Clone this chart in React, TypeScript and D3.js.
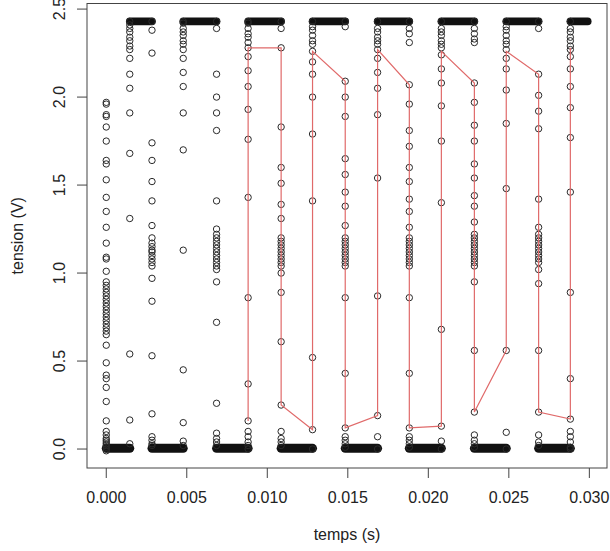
import React from "react";
import * as d3 from "d3";

// ---- data ----
const colX = [0, 0.00146, 0.00284, 0.00478, 0.00685, 0.00881, 0.01086, 0.01281, 0.01484, 0.01685, 0.01882, 0.02081, 0.02286, 0.02484, 0.02685, 0.02882];

const c0 = [1.97, 1.96, 1.9, 1.89, 1.83, 1.75, 1.64, 1.62, 1.53, 1.43, 1.35, 1.26, 1.17, 1.09, 1.08, 1.01, 0.95, 0.93, 0.91, 0.89, 0.87, 0.85, 0.83, 0.81, 0.79, 0.77, 0.75, 0.73, 0.71, 0.69, 0.67, 0.65, 0.59, 0.49, 0.42, 0.4, 0.35, 0.27, 0.16, 0.1, 0.08, 0.06, 0.05, 0.04, 0.03, 0.02, 0.01, 0.0, -0.01];
const c1 = [0.03, 0.165, 0.54, 1.31, 1.68, 1.91, 2.05, 2.13, 2.22, 2.27, 2.29, 2.32, 2.34, 2.37, 2.39, 2.41, 2.43];
const c2 = [2.43, 2.38, 2.25, 1.74, 1.64, 1.52, 1.41, 1.27, 1.2, 1.17, 1.15, 1.13, 1.12, 1.1, 1.08, 1.06, 1.04, 0.97, 0.84, 0.53, 0.2, 0.07, 0.05, 0.03, 0.02];
const c3 = [0.02, 0.045, 0.15, 0.45, 1.13, 1.7, 1.91, 2.06, 2.14, 2.22, 2.27, 2.3, 2.32, 2.35, 2.37, 2.39, 2.42, 2.43];
const c4 = [2.43, 2.39, 2.13, 2.0, 1.91, 1.81, 1.41, 1.25, 1.22, 1.2, 1.18, 1.16, 1.14, 1.12, 1.1, 1.08, 1.06, 1.04, 1.02, 0.95, 0.72, 0.26, 0.09, 0.06, 0.04, 0.02];
const c5 = [0.0, 0.02, 0.04, 0.07, 0.1, 0.16, 0.37, 0.86, 1.43, 1.76, 1.93, 2.06, 2.15, 2.23, 2.28, 2.31, 2.34, 2.36, 2.39, 2.42, 2.43];
const c6 = [2.43, 2.39, 2.28, 1.83, 1.6, 1.51, 1.39, 1.31, 1.2, 1.18, 1.16, 1.14, 1.12, 1.1, 1.08, 1.06, 1.04, 1.0, 0.89, 0.61, 0.25, 0.1, 0.06, 0.04, 0.02];
const c7 = [0.0, 0.11, 0.52, 1.41, 1.79, 2.0, 2.13, 2.2, 2.26, 2.3, 2.32, 2.35, 2.38, 2.4, 2.43];
const c8 = [2.43, 2.4, 2.09, 2.0, 1.89, 1.65, 1.56, 1.46, 1.38, 1.27, 1.2, 1.18, 1.16, 1.14, 1.12, 1.1, 1.08, 1.06, 1.04, 0.86, 0.43, 0.12, 0.07, 0.05, 0.03, 0.01];
const c9 = [0.0, 0.07, 0.19, 0.87, 1.54, 1.9, 2.05, 2.14, 2.22, 2.27, 2.3, 2.32, 2.34, 2.37, 2.39, 2.43];
const c10 = [2.43, 2.39, 2.36, 2.31, 2.07, 1.96, 1.81, 1.72, 1.6, 1.52, 1.42, 1.35, 1.26, 1.2, 1.18, 1.16, 1.14, 1.12, 1.1, 1.08, 1.06, 1.04, 0.86, 0.43, 0.12, 0.07, 0.05, 0.03, 0.01];
const c11 = [0.0, 0.045, 0.13, 0.68, 1.4, 1.75, 1.95, 2.08, 2.16, 2.24, 2.28, 2.3, 2.32, 2.35, 2.37, 2.39, 2.43];
const c12 = [2.43, 2.39, 2.36, 2.33, 2.31, 2.08, 1.97, 1.84, 1.75, 1.62, 1.54, 1.44, 1.38, 1.29, 1.22, 1.2, 1.18, 1.16, 1.14, 1.12, 1.1, 1.08, 1.06, 1.04, 0.95, 0.56, 0.21, 0.08, 0.05, 0.03, 0.01];
const c13 = [0.0, 0.095, 0.56, 1.48, 1.85, 2.04, 2.16, 2.22, 2.27, 2.3, 2.32, 2.35, 2.38, 2.4, 2.43];
const c14 = [2.43, 2.39, 2.13, 2.01, 1.92, 1.82, 1.42, 1.26, 1.22, 1.2, 1.18, 1.16, 1.14, 1.12, 1.1, 1.08, 1.06, 1.02, 0.94, 0.56, 0.21, 0.08, 0.04, 0.02];
const c15 = [0.0, 0.01, 0.04, 0.07, 0.1, 0.17, 0.4, 0.89, 1.46, 1.77, 1.94, 2.06, 2.16, 2.23, 2.27, 2.29, 2.32, 2.34, 2.37, 2.39, 2.43];
const columns = [c0, c1, c2, c3, c4, c5, c6, c7, c8, c9, c10, c11, c12, c13, c14, c15];

// flat runs (dense rows of samples at the high and low levels)
const highStart = [0.00146, 0.00478, 0.00881, 0.01281, 0.01685, 0.02081, 0.02484, 0.02882];
const highEnd = [0.00284, 0.00685, 0.01086, 0.01484, 0.01882, 0.02286, 0.02685, 0.0299];
const highLevel = 2.43;
const lowStart = [0, 0.00284, 0.00685, 0.01086, 0.01484, 0.01882, 0.02286, 0.02685];
const lowEnd = [0.00146, 0.00478, 0.00881, 0.01281, 0.01685, 0.02081, 0.02484, 0.02882];
const lowLevel = 0.004;

// red trace
const redT = [0.00881, 0.00881, 0.01086, 0.01086, 0.01281, 0.01281, 0.01484, 0.01484, 0.01685, 0.01685, 0.01882, 0.01882, 0.02081, 0.02081, 0.02286, 0.02286, 0.02484, 0.02484, 0.02685, 0.02685, 0.02882, 0.02882];
const redV = [0.16, 2.28, 2.28, 0.25, 0.11, 2.26, 2.09, 0.12, 0.19, 2.27, 2.07, 0.12, 0.13, 2.26, 2.08, 0.21, 0.56, 2.26, 2.13, 0.21, 0.17, 2.28];

const xTicks = [0, 0.005, 0.01, 0.015, 0.02, 0.025, 0.03];
const yTicks = [0, 0.5, 1, 1.5, 2, 2.5];
const xLabel = "temps (s)";
const yLabel = "tension (V)";

// ---- layout ----
const W = 610, H = 551;
const L = 87, R = 607, T = 3.5, B = 468;
const FONT = "'Liberation Sans', Arial, Helvetica, sans-serif";

export default function App() {
  const xExt = [0, 0.0299];
  const yExt = [-0.01, 2.434];
  const xp = (xExt[1] - xExt[0]) * 0.04;
  const yp = (yExt[1] - yExt[0]) * 0.04;
  const x = d3.scaleLinear().domain([xExt[0] - xp, xExt[1] + xp]).range([L, R]);
  const y = d3.scaleLinear().domain([yExt[0] - yp, yExt[1] + yp]).range([B, T]);

  const redLine = d3
    .line<number>()
    .x((_, i) => x(redT[i]))
    .y((v) => y(v))(redV) as string;

  const pts: { cx: number; cy: number }[] = [];
  columns.forEach((vals, ci) => {
    vals.forEach((v) => pts.push({ cx: x(colX[ci]), cy: y(v) }));
  });

  const tickFmtX = d3.format(".3f");
  const tickFmtY = d3.format(".1f");
  const ink = "#222";

  return (
    <svg
      width={W}
      height={H}
      style={{ position: "absolute", left: 0, top: 0, background: "#fff" }}
      fontFamily={FONT}
    >
      <rect x={0} y={0} width={W} height={H} fill="#fff" />
      {/* dense flat rows */}
      <g stroke="#111" strokeLinecap="round" fill="none">
        {highStart.map((s, i) => (
          <line key={"h" + i} x1={x(s)} x2={x(highEnd[i])} y1={y(highLevel)} y2={y(highLevel)} strokeWidth={7.6} />
        ))}
        {lowStart.map((s, i) => (
          <line key={"l" + i} x1={x(s)} x2={x(lowEnd[i])} y1={y(lowLevel)} y2={y(lowLevel)} strokeWidth={9} />
        ))}
      </g>
      {/* column samples */}
      <g fill="none" stroke="#2a2a2a" strokeWidth={1}>
        {pts.map((p, i) => (
          <circle key={i} cx={p.cx} cy={p.cy} r={3.2} />
        ))}
      </g>
      {/* red trace */}
      <path d={redLine} fill="none" stroke="#e06a6a" strokeWidth={1.2} />
      {/* box */}
      <rect x={L} y={T} width={R - L} height={B - T} fill="none" stroke="#444" strokeWidth={1} />
      {/* axes ticks */}
      <g stroke="#444" strokeWidth={1}>
        {xTicks.map((t) => (
          <line key={t} x1={x(t)} x2={x(t)} y1={B} y2={B + 10} />
        ))}
        {yTicks.map((t) => (
          <line key={t} x1={L - 10} x2={L} y1={y(t)} y2={y(t)} />
        ))}
      </g>
      <g fontSize={16} fill={ink} textAnchor="middle">
        {xTicks.map((t) => (
          <text key={t} x={x(t)} y={502.5}>
            {tickFmtX(t)}
          </text>
        ))}
        {yTicks.map((t) => (
          <text key={t} transform={`translate(65,${y(t)}) rotate(-90)`}>
            {tickFmtY(t)}
          </text>
        ))}
        <text x={(L + R) / 2} y={540}>
          {xLabel}
        </text>
        <text transform={`translate(23,${(T + B) / 2}) rotate(-90)`}>{yLabel}</text>
      </g>
    </svg>
  );
}
